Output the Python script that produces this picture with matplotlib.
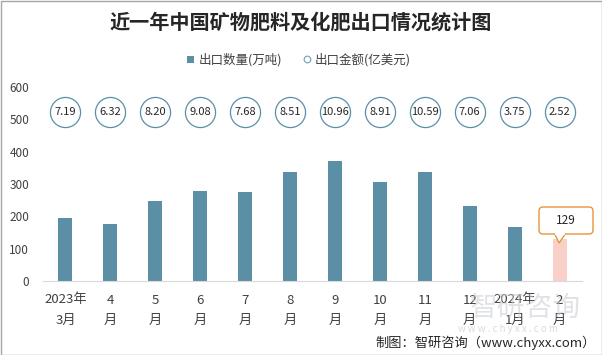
import matplotlib
matplotlib.use("Agg")
import matplotlib.pyplot as plt
from matplotlib.patches import FancyBboxPatch, Rectangle, Polygon, Circle
import numpy as np

plt.rcParams['font.family'] = ['Noto Sans CJK SC', 'DejaVu Sans']

categories = ["2023年\n3月", "4\n月", "5\n月", "6\n月", "7\n月", "8\n月", "9\n月",
              "10\n月", "11\n月", "12\n月", "2024年\n1月", "2\n月"]
quantity = [195, 176, 248, 279, 276, 337, 371, 306, 337, 232, 167, 129]
amount = [7.19, 6.32, 8.20, 9.08, 7.68, 8.51, 10.96, 8.91, 10.59, 7.06, 3.75, 2.52]
yticks = [0, 100, 200, 300, 400, 500, 600]

bar_color = "#5B8FA6"
last_color = "#F8D0C8"
text_color = "#404040"

fig = plt.figure(figsize=(6.02, 3.55), dpi=100)
ax = fig.add_axes([43/602, 1-281/355, 539/602, (281-87)/355])

x = np.arange(len(categories))
colors = [bar_color]*(len(categories)-1) + [last_color]
ax.bar(x, quantity, width=0.31, color=colors, zorder=2)

ax.set_xlim(-0.5, len(categories)-0.5)
ax.set_ylim(0, 600)
ax.set_yticks(yticks)
ax.set_yticklabels([str(v) for v in yticks], fontsize=8.5, color=text_color)
ax.set_xticks(x)
ax.set_xticklabels(categories, fontsize=9.5, color=text_color, linespacing=1.75)
ax.tick_params(axis='both', length=0)
ax.tick_params(axis='x', pad=9)
ax.tick_params(axis='y', pad=10)
for s in ['top', 'right', 'left']:
    ax.spines[s].set_visible(False)
ax.spines['bottom'].set_color('#D9D9D9')

# amount circles
circ_y = [522]*len(amount)
ax.scatter(x, circ_y, s=470, facecolor='white', edgecolor='#5B8FA6', linewidth=0.9, zorder=3, clip_on=False)
for xi, yi, a in zip(x, circ_y, amount):
    ax.text(xi, yi, f"{a:.2f}", ha='center', va='center', fontsize=8, color='#262626', zorder=4)

# callout for last bar
li = len(categories)-1
lv = quantity[-1]
tip = ax.transData.transform((li, lv))
bx0, bx1 = 539, 593
by0, by1 = 355-234, 355-207
box = FancyBboxPatch((bx0, by0), bx1-bx0, by1-by0, boxstyle="round,pad=0,rounding_size=4",
                     transform=None, facecolor='white', edgecolor='#E5963A', linewidth=1, zorder=5)
fig.patches.append(box)
ptr = Polygon([(tip[0]-5, by0+0.5), (tip[0]-0.5, 355-243), (tip[0]+6, by0+0.5)], closed=False,
              transform=None, facecolor='white', edgecolor='#E5963A', linewidth=1, zorder=6)
fig.patches.append(ptr)
fig.patches.append(Rectangle((tip[0]-4.5, by0-0.5), 10, 2, transform=None, facecolor='white',
                             edgecolor='none', zorder=7))
fig.text((bx0+bx1)/2/602, (by0+by1)/2/355, str(lv), ha='center', va='center', fontsize=8.5,
         color='#262626', zorder=8)

# title
fig.text(0.5, 1-22/355, "近一年中国矿物肥料及化肥出口情况统计图", ha='center', va='center',
         fontsize=14.5, fontweight='bold', color='#262626')

# legend
fig.patches.append(Rectangle((187, 355-63), 7, 7, transform=None, facecolor=bar_color, edgecolor='none'))
fig.text(199/602, 1-59.5/355, "出口数量(万吨)", ha='left', va='center', fontsize=9, color=text_color)
fig.patches.append(Circle((307.5, 355-59.5), 3.3, transform=None, facecolor='white',
                          edgecolor='#7FA7BD', linewidth=0.9))
fig.text(315/602, 1-59.5/355, "出口金额(亿美元)", ha='left', va='center', fontsize=9, color=text_color)

# watermark
fig.text(470/602, 1-308/355, "智研咨询", ha='left', va='center', fontsize=20, color='#C8CCD3', alpha=0.55, zorder=0)
fig.text(508/602, 1-329/355, "w w w . c h y x x . c o m", ha='center', va='center', fontsize=7, color='#C8CCD3', alpha=0.7)

# source
fig.text(596/602, 1-343/355, "制图：智研咨询（www.chyxx.com）", ha='right', va='center', fontsize=9.5, color='#262626')

# border
fig.patches.append(Rectangle((0.5, 0.5), 601, 354, transform=None, facecolor='none', edgecolor='#A6A6A6', linewidth=1))

fig.savefig("out.png", dpi=100)
